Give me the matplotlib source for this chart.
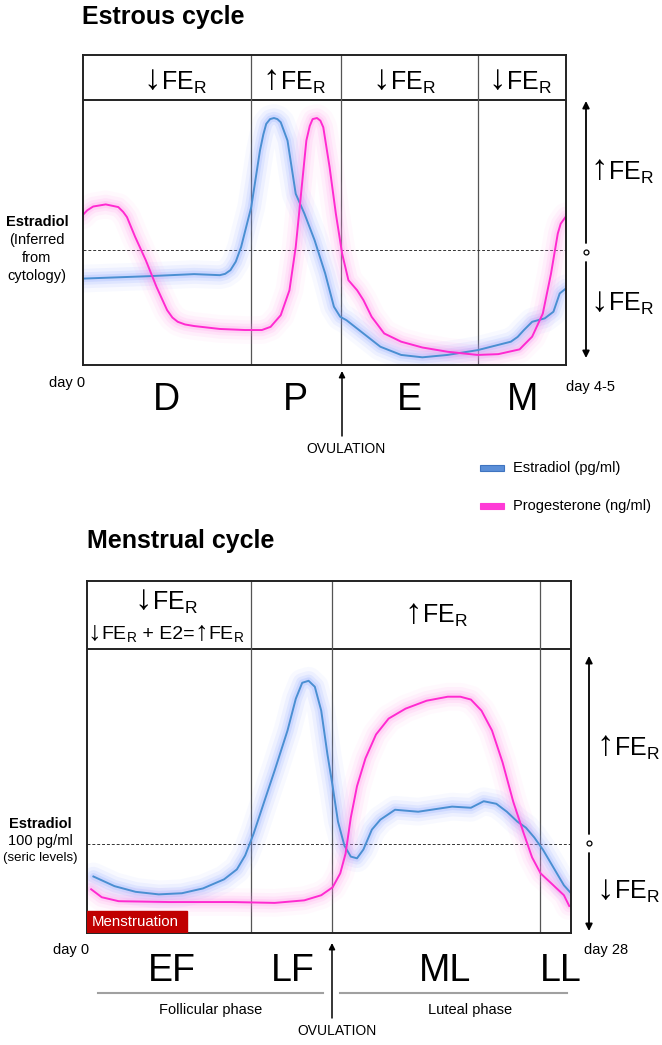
"""
Estrous vs menstrual cycle schematic
- hormone curves (estradiol / progesterone)
- FE_R annotations per phase
"""

import numpy as np
import matplotlib.pyplot as plt
from matplotlib.patches import Rectangle
from matplotlib.offsetbox import TextArea, HPacker, AnnotationBbox

plt.rcParams['font.family'] = ['Liberation Sans', 'DejaVu Sans']
plt.rcParams['mathtext.fontset'] = 'custom'
plt.rcParams['mathtext.rm'] = 'Liberation Sans'
plt.rcParams['mathtext.it'] = 'Liberation Sans:italic'
plt.rcParams['mathtext.bf'] = 'Liberation Sans:bold'

W, H = 662, 1045

# Estrous cycle: x = % of cycle, y = relative level
estrous_x_e2 = [0, 13.5, 23.1, 28.4, 29.5, 30.6, 31.7, 32.8, 34.9, 36.7, 37.4, 38.0,
                38.8, 39.6, 40.3, 41.0, 42.4, 44.1, 45.9, 48.0, 50.2, 52.0, 53.3,
                54.6, 58.1, 61.6, 65.9, 70.3, 75.5, 81.7, 88.6, 90.0, 91.3, 93.0,
                95.6, 97.4, 98.7, 100]
estrous_e2 = [32.6, 33.5, 34.3, 33.9, 34.4, 35.8, 39.0, 44.5, 59.6, 80.9, 87.0, 91.0,
              92.8, 93.2, 92.8, 91.6, 84.7, 64.6, 57.1, 47.1, 34.5, 22.0, 18.2,
              16.9, 11.9, 6.9, 3.8, 2.9, 3.8, 5.6, 8.8, 10.6, 13.2, 16.3,
              17.6, 20.1, 27.0, 28.9]
estrous_x_p4 = [0, 1.0, 2.2, 4.8, 7.4, 8.4, 9.2, 10.9, 13.1, 15.3, 17.5, 18.6, 19.7,
                21.2, 23.1, 28.4, 33.6, 37.1, 38.9, 41.0, 42.8, 44.1, 45.2, 46.3,
                47.0, 47.6, 48.5, 49.2, 49.8, 51.1, 52.4, 53.7, 55.0, 56.8, 58.1,
                59.8, 62.4, 65.9, 70.3, 75.5, 81.7, 86.0, 90.4, 93.0, 95.2, 96.9,
                98.3, 98.9, 100]
estrous_p4 = [56.5, 58.4, 59.8, 60.6, 59.6, 57.8, 55.8, 48.3, 39.5, 29.5, 20.7, 17.9, 16.3,
              15.3, 14.7, 13.6, 13.2, 13.2, 14.4, 18.8, 28.2, 44.5, 64.6, 84.7,
              90.2, 92.8, 93.2, 92.2, 89.7, 74.7, 57.1, 42.0, 32.0, 28.2, 24.5,
              18.2, 11.9, 8.8, 6.6, 5.0, 3.8, 4.1, 5.9, 10.7, 19.4, 34.5,
              49.6, 53.3, 56.1]
estrous_bounds = [34.8, 53.4, 81.9]
estrous_phases = ['D', 'P', 'E', 'M']
estrous_fer = ['↓', '↑', '↓', '↓']
estrous_fer_x = [175, 294, 404, 520]     # header label centres (px)
estrous_threshold = 43.5

# Menstrual cycle: x = day, y = relative level
menstrual_x_e2 = [0.37, 1.59, 2.81, 4.15, 5.49, 6.71, 7.93, 8.67, 9.15, 9.64, 10.25,
                  10.86, 11.60, 12.08, 12.45, 12.82, 13.18, 13.55, 13.91, 14.21,
                  14.52, 14.89, 15.26, 15.62, 15.99, 16.48, 16.97, 17.82, 19.16,
                  21.12, 22.21, 22.95, 23.68, 24.29, 24.90, 25.39, 25.88, 26.37,
                  26.98, 27.59, 28.0]
menstrual_e2 = [19.9, 16.5, 14.5, 13.6, 14.0, 15.7, 18.9, 22.4, 27.3, 35.0, 46.2,
                57.3, 71.3, 82.5, 88.1, 88.8, 86.7, 78.3, 62.9, 51.7,
                39.2, 30.8, 26.9, 26.3, 29.4, 36.4, 39.9, 43.4, 42.7,
                44.5, 44.1, 46.4, 45.5, 42.7, 39.2, 37.1, 33.6, 29.4,
                23.1, 16.8, 14.0]
menstrual_x_p4 = [0.24, 0.85, 1.83, 4.76, 8.42, 10.86, 12.57, 13.55, 14.21, 14.65,
                  14.96, 15.26, 15.62, 16.11, 16.72, 17.45, 18.43, 19.65, 20.87,
                  21.60, 22.21, 22.82, 23.43, 24.04, 24.66, 25.27, 25.75, 26.24,
                  26.98, 27.59, 27.90]
menstrual_p4 = [15.4, 12.6, 11.2, 10.9, 10.9, 10.6, 11.5, 13.3, 16.1, 21.0,
                28.0, 40.6, 51.7, 61.5, 69.9, 75.5, 79.0, 81.8, 83.2,
                83.2, 82.2, 78.3, 71.3, 60.1, 46.2, 35.0, 26.6, 21.0,
                16.8, 13.3, 9.5]
menstrual_bounds = [9.5, 14.2, 26.2]
menstrual_phases = ['EF', 'LF', 'ML', 'LL']
menstrual_label_x = [4.9, 11.9, 20.7, 27.4]
menstrual_threshold = 31.2
menses_days = 5.8

BLUE, BLUE_GLOW = '#4a8fd2', '#7f9cff'
PINK, PINK_GLOW = '#ff2ad0', '#ff8eea'

SUB_R = '$_\\mathregular{R}$'


def glow_line(ax, x, y, glow):
    for w, a in [(20, 0.05), (14, 0.09), (9, 0.13), (5, 0.19)]:
        ax.plot(x, y, color=glow, lw=w, alpha=a,
                solid_capstyle='round', solid_joinstyle='round')


def panel(x0, y0, x1, y1, y_header, xmax):
    """Box with header strip; data area 0..100 below the header line."""
    ax = fig.add_axes([x0 / W, 1 - y1 / H, (x1 - x0) / W, (y1 - y0) / H])
    ax.set_xlim(0, xmax)
    ax.set_ylim(0, 100 * (y1 - y0) / (y1 - y_header))
    ax.set_xticks([])
    ax.set_yticks([])
    for s in ax.spines.values():
        s.set_linewidth(1.4)
        s.set_color('#222222')
    ax.axhline(100, color='#222222', lw=1.4)
    return ax


def fer_parts(arrow, size):
    return [TextArea(arrow, textprops=dict(fontsize=size * 1.4)),
            TextArea('FE' + SUB_R, textprops=dict(fontsize=size))]


def place(ov, parts, x, y, halign=0.5):
    box = HPacker(children=parts, align='baseline', pad=0, sep=0)
    ov.add_artist(AnnotationBbox(box, (x, y), xycoords='data', frameon=False,
                                 box_alignment=(halign, 0.5), pad=0))


def fer_arrow(ov, x, y_top, y_mid, y_bot, y_up_txt, y_dn_txt, dx):
    kw = dict(arrowstyle='-|>', color='black', lw=1.3, mutation_scale=10,
              shrinkA=0, shrinkB=0)
    ov.annotate('', xy=(x, y_top), xytext=(x, y_mid - 9), arrowprops=kw)
    ov.annotate('', xy=(x, y_bot), xytext=(x, y_mid + 10), arrowprops=kw)
    ov.plot(x, y_mid, 'o', ms=3.5, mfc='white', mec='black', mew=0.9)
    place(ov, fer_parts('↑', 18), x + dx, y_up_txt, halign=0)
    place(ov, fer_parts('↓', 18), x + dx, y_dn_txt, halign=0)


fig = plt.figure(figsize=(W / 100, H / 100), dpi=100)

# ---------------- Estrous cycle ----------------
ax1 = panel(82.5, 55, 566, 365, 100, 100)
for b in estrous_bounds:
    ax1.axvline(b, color='#555555', lw=0.9)
ax1.axhline(estrous_threshold, color='#333333', lw=0.7, ls=(0, (3, 2)))
glow_line(ax1, estrous_x_e2, estrous_e2, BLUE_GLOW)
glow_line(ax1, estrous_x_p4, estrous_p4, PINK_GLOW)
ax1.plot(estrous_x_e2, estrous_e2, color=BLUE, lw=1.4, solid_joinstyle='round')
ax1.plot(estrous_x_p4, estrous_p4, color=PINK, lw=1.4, solid_joinstyle='round')

# ---------------- Menstrual cycle ----------------
ax2 = panel(87, 581, 571, 933, 649, 28)
for b in menstrual_bounds:
    ax2.axvline(b, color='#555555', lw=0.9)
ax2.axhline(menstrual_threshold, color='#333333', lw=0.7, ls=(0, (3, 2)))
glow_line(ax2, menstrual_x_e2, menstrual_e2, BLUE_GLOW)
glow_line(ax2, menstrual_x_p4, menstrual_p4, PINK_GLOW)
ax2.plot(menstrual_x_e2, menstrual_e2, color=BLUE, lw=1.4, solid_joinstyle='round')
ax2.plot(menstrual_x_p4, menstrual_p4, color=PINK, lw=1.4, solid_joinstyle='round')
ax2.add_patch(Rectangle((0, 0), menses_days, 7.7, color='#c00000', zorder=5))
ax2.text(0.3, 3.9, 'Menstruation', color='white', fontsize=10.8,
         va='center', zorder=6)

# ---------------- overlay (titles, labels, arrows) ----------------
ov = fig.add_axes([0, 0, 1, 1])
ov.set_xlim(0, W)
ov.set_ylim(H, 0)
ov.axis('off')

ov.text(82, 17, 'Estrous cycle', fontsize=18, fontweight='bold', va='center')
ov.text(87, 541, 'Menstrual cycle', fontsize=18, fontweight='bold', va='center')

# header FE_R labels
for arrow, xc in zip(estrous_fer, estrous_fer_x):
    place(ov, fer_parts(arrow, 18), xc, 80)
place(ov, fer_parts('↓', 18), 166, 600)
line2 = (fer_parts('↓', 14)
         + [TextArea(' + E2=', textprops=dict(fontsize=14))]
         + fer_parts('↑', 14))
place(ov, line2, 166, 632)
place(ov, fer_parts('↑', 18), 436, 613)

for y, s, w in [(222, 'Estradiol', 'bold'), (240, '(Inferred', 'normal'),
                (258, 'from', 'normal'), (276, 'cytology)', 'normal')]:
    ov.text(37, y, s, fontsize=10.5, fontweight=w, ha='center', va='center')
for y, s, w, fs in [(824, 'Estradiol', 'bold', 10.5), (841, '100 pg/ml', 'normal', 10.5),
                    (858, '(seric levels)', 'normal', 9.5)]:
    ov.text(40, y, s, fontsize=fs, fontweight=w, ha='center', va='center')

ov.text(67, 383, 'day 0', fontsize=10.5, ha='center', va='center')
ov.text(590, 387, 'day 4-5', fontsize=10.5, ha='center', va='center')
ov.text(71, 950, 'day 0', fontsize=10.5, ha='center', va='center')
ov.text(606, 950, 'day 28', fontsize=10.5, ha='center', va='center')

# phase letters
edges = [0] + estrous_bounds + [100]
for i, lab in enumerate(estrous_phases):
    xc = (edges[i] + edges[i + 1]) / 2
    xp = 82.5 + xc / 100 * (566 - 82.5)
    ov.text(xp, 410, lab, fontsize=27, ha='center', va='baseline')
for lab, xd in zip(menstrual_phases, menstrual_label_x):
    xp = 87 + xd / 28 * (571 - 87)
    ov.text(xp, 981, lab, fontsize=27, ha='center', va='baseline')

# follicular / luteal bars
ov.plot([98, 323], [993, 993], color='#a0a0a0', lw=1.5)
ov.plot([340, 567], [993, 993], color='#a0a0a0', lw=1.5)
ov.text(211, 1010, 'Follicular phase', fontsize=10.5, ha='center', va='center')
ov.text(470, 1010, 'Luteal phase', fontsize=10.5, ha='center', va='center')

# ovulation arrows
akw = dict(arrowstyle='-|>', color='black', lw=1.1, mutation_scale=9,
           shrinkA=0, shrinkB=0)
ov.annotate('', xy=(342, 371), xytext=(342, 436), arrowprops=akw)
ov.text(346, 449, 'OVULATION', fontsize=10, ha='center', va='center')
ov.annotate('', xy=(332, 943), xytext=(332, 1018), arrowprops=akw)
ov.text(337, 1031, 'OVULATION', fontsize=10, ha='center', va='center')

# FE_R scale arrows on the right
fer_arrow(ov, 586, 101, 252, 358, 170, 301, 4)
fer_arrow(ov, 589, 656, 843, 931, 746, 889, 7)

# legend
ov.add_patch(Rectangle((480, 465), 24, 6, facecolor='#5b8fd8', edgecolor='#3f74c0', lw=0.8))
ov.add_patch(Rectangle((480, 503), 24, 6, facecolor='#ff3ad6', edgecolor='#ff3ad6', lw=0.8))
ov.text(513, 468, 'Estradiol (pg/ml)', fontsize=10.5, va='center')
ov.text(513, 506, 'Progesterone (ng/ml)', fontsize=10.5, va='center')

fig.savefig('out.png', dpi=100)
